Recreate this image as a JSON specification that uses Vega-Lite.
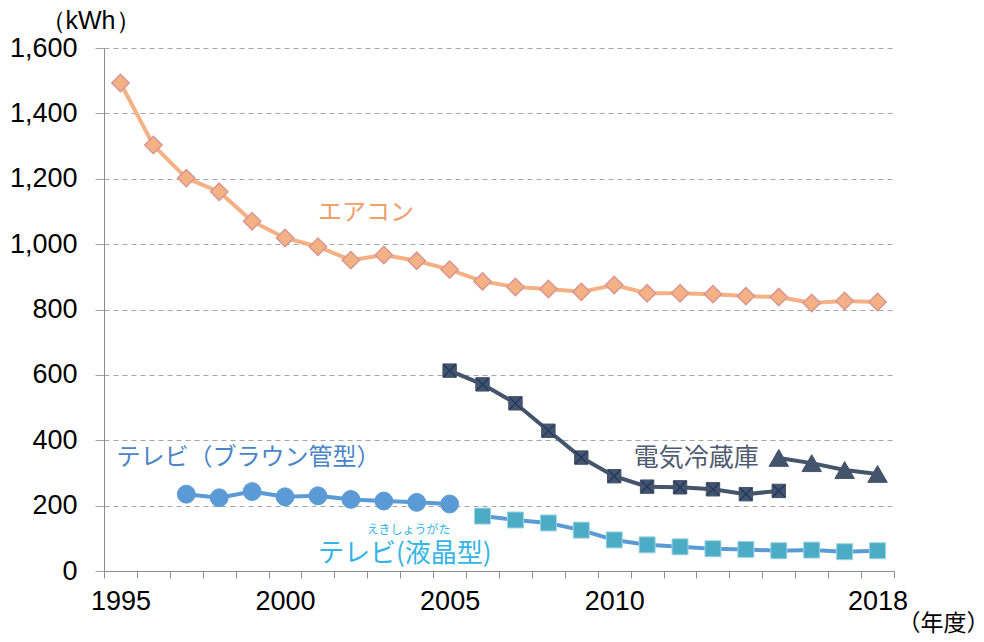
{
  "$schema": "https://vega.github.io/schema/vega-lite/v6.json",
  "width": 790,
  "height": 523,
  "autosize": {"type": "none"},
  "padding": {"left": 104, "top": 48, "right": 90, "bottom": 71},
  "background": "white",
  "config": {"view": {"stroke": null}},
  "datasets": {
    "series": [
      {"series": "aircon", "year": "1995", "value": 1493},
      {"series": "aircon", "year": "1996", "value": 1303},
      {"series": "aircon", "year": "1997", "value": 1202},
      {"series": "aircon", "year": "1998", "value": 1160},
      {"series": "aircon", "year": "1999", "value": 1070},
      {"series": "aircon", "year": "2000", "value": 1019},
      {"series": "aircon", "year": "2001", "value": 992},
      {"series": "aircon", "year": "2002", "value": 951},
      {"series": "aircon", "year": "2003", "value": 967},
      {"series": "aircon", "year": "2004", "value": 949},
      {"series": "aircon", "year": "2005", "value": 922},
      {"series": "aircon", "year": "2006", "value": 886},
      {"series": "aircon", "year": "2007", "value": 869},
      {"series": "aircon", "year": "2008", "value": 863},
      {"series": "aircon", "year": "2009", "value": 854},
      {"series": "aircon", "year": "2010", "value": 875},
      {"series": "aircon", "year": "2011", "value": 850},
      {"series": "aircon", "year": "2012", "value": 850},
      {"series": "aircon", "year": "2013", "value": 847},
      {"series": "aircon", "year": "2014", "value": 841},
      {"series": "aircon", "year": "2015", "value": 838},
      {"series": "aircon", "year": "2016", "value": 820},
      {"series": "aircon", "year": "2017", "value": 826},
      {"series": "aircon", "year": "2018", "value": 823},
      {"series": "fridge_old", "year": "2005", "value": 613},
      {"series": "fridge_old", "year": "2006", "value": 571},
      {"series": "fridge_old", "year": "2007", "value": 513},
      {"series": "fridge_old", "year": "2008", "value": 429},
      {"series": "fridge_old", "year": "2009", "value": 347},
      {"series": "fridge_old", "year": "2010", "value": 290},
      {"series": "fridge_old", "year": "2011", "value": 258},
      {"series": "fridge_old", "year": "2012", "value": 256},
      {"series": "fridge_old", "year": "2013", "value": 250},
      {"series": "fridge_old", "year": "2014", "value": 235},
      {"series": "fridge_old", "year": "2015", "value": 245},
      {"series": "fridge_new", "year": "2015", "value": 346},
      {"series": "fridge_new", "year": "2016", "value": 330},
      {"series": "fridge_new", "year": "2017", "value": 309},
      {"series": "fridge_new", "year": "2018", "value": 297},
      {"series": "tv_crt", "year": "1997", "value": 235},
      {"series": "tv_crt", "year": "1998", "value": 224},
      {"series": "tv_crt", "year": "1999", "value": 243},
      {"series": "tv_crt", "year": "2000", "value": 227},
      {"series": "tv_crt", "year": "2001", "value": 230},
      {"series": "tv_crt", "year": "2002", "value": 219},
      {"series": "tv_crt", "year": "2003", "value": 214},
      {"series": "tv_crt", "year": "2004", "value": 210},
      {"series": "tv_crt", "year": "2005", "value": 205},
      {"series": "tv_lcd", "year": "2006", "value": 168},
      {"series": "tv_lcd", "year": "2007", "value": 156},
      {"series": "tv_lcd", "year": "2008", "value": 147},
      {"series": "tv_lcd", "year": "2009", "value": 125},
      {"series": "tv_lcd", "year": "2010", "value": 95},
      {"series": "tv_lcd", "year": "2011", "value": 80},
      {"series": "tv_lcd", "year": "2012", "value": 74},
      {"series": "tv_lcd", "year": "2013", "value": 68},
      {"series": "tv_lcd", "year": "2014", "value": 66},
      {"series": "tv_lcd", "year": "2015", "value": 62},
      {"series": "tv_lcd", "year": "2016", "value": 64},
      {"series": "tv_lcd", "year": "2017", "value": 59},
      {"series": "tv_lcd", "year": "2018", "value": 62}
    ],
    "labels": [
      {"key": "aircon", "label": "エアコン", "year": "2001", "value": 1095},
      {"key": "tv_crt", "label": "テレビ（ブラウン管型）", "year": "1995", "value": 346},
      {"key": "fridge", "label": "電気冷蔵庫", "year": "2015", "value": 346},
      {"key": "furigana", "label": "えきしょうがた", "year": "2004", "value": 125},
      {"key": "tv_lcd", "label": "テレビ(液晶型)", "year": "2006", "value": 52}
    ]
  },
  "data": {"name": "series"},
  "encoding": {
    "x": {
      "field": "year",
      "type": "ordinal",
      "bandPosition": 0.5,
      "scale": {
        "type": "band",
        "domain": ["1995","1996","1997","1998","1999","2000","2001","2002","2003","2004","2005","2006","2007","2008","2009","2010","2011","2012","2013","2014","2015","2016","2017","2018"],
        "paddingInner": 0,
        "paddingOuter": 0
      },
      "axis": {
        "title": "（年度）",
        "labelExpr": "indexof(['1995','2000','2005','2010','2018'], datum.value) >= 0 ? datum.value : ''",
        "labelOverlap": false,
        "labelAngle": 0,
        "tickBand": "extent",
        "grid": false,
        "domainColor": "#8c8c8c",
        "tickColor": "#8c8c8c",
        "tickSize": 7,
        "labelFont": "Liberation Sans",
        "labelFontSize": 27,
        "labelColor": "#000000",
        "labelPadding": 10,
        "titleFont": "Noto Sans CJK JP",
        "titleFontSize": 23,
        "titleFontWeight": "normal",
        "titleColor": "#000000",
        "titleAlign": "center",
        "titleBaseline": "middle",
        "titleX": 839,
        "titleY": 52
      }
    },
    "y": {
      "field": "value",
      "type": "quantitative",
      "scale": {"domain": [0, 1600], "nice": false, "zero": true},
      "axis": {
        "values": [0, 200, 400, 600, 800, 1000, 1200, 1400, 1600],
        "format": ",.0f",
        "grid": true,
        "gridDash": [5, 4],
        "gridColor": "#a6a6a6",
        "gridWidth": 1,
        "domainColor": "#8c8c8c",
        "tickColor": "#a6a6a6",
        "tickSize": 9,
        "labelFont": "Liberation Sans",
        "labelFontSize": 27,
        "labelColor": "#000000",
        "labelPadding": 18,
        "title": "（kWh）",
        "titleFont": "Liberation Sans",
        "titleFontSize": 25,
        "titleFontWeight": "normal",
        "titleColor": "#000000",
        "titleAngle": 0,
        "titleAlign": "center",
        "titleBaseline": "middle",
        "titleX": -14,
        "titleY": -28
      }
    }
  },
  "layer": [
    {
      "mark": {"type": "line", "strokeWidth": 4},
      "encoding": {
        "color": {
          "field": "series",
          "type": "nominal",
          "legend": null,
          "scale": {
            "domain": ["aircon", "fridge_old", "fridge_new", "tv_crt", "tv_lcd"],
            "range": ["#f4b183", "#44546a", "#44546a", "#5b9bd5", "#5b9bd5"]
          }
        }
      }
    },
    {
      "transform": [{"filter": "datum.series == 'aircon'"}],
      "mark": {"type": "point", "shape": "diamond", "size": 300, "filled": true, "fill": "#f4b183", "stroke": "#d99694", "strokeWidth": 1.5, "opacity": 1}
    },
    {
      "transform": [{"filter": "datum.series == 'fridge_old'"}],
      "mark": {"type": "point", "shape": "square", "size": 180, "filled": true, "fill": "#44546a", "stroke": "#44546a", "strokeWidth": 1, "opacity": 1}
    },
    {
      "transform": [{"filter": "datum.series == 'fridge_old'"}],
      "mark": {"type": "point", "shape": "M-1,-1L1,1M-1,1L1,-1", "size": 150, "filled": false, "stroke": "#1f3864", "strokeWidth": 1.3, "opacity": 1}
    },
    {
      "transform": [{"filter": "datum.series == 'fridge_new'"}],
      "mark": {"type": "point", "shape": "triangle-up", "size": 380, "filled": true, "fill": "#44546a", "stroke": "#44546a", "strokeWidth": 1, "opacity": 1}
    },
    {
      "transform": [{"filter": "datum.series == 'tv_crt'"}],
      "mark": {"type": "point", "shape": "circle", "size": 320, "filled": true, "fill": "#5b9bd5", "stroke": "#5b9bd5", "strokeWidth": 1, "opacity": 1}
    },
    {
      "transform": [{"filter": "datum.series == 'tv_lcd'"}],
      "mark": {"type": "point", "shape": "square", "size": 256, "filled": true, "fill": "#4bacc6", "stroke": "#9fd3e3", "strokeWidth": 1, "opacity": 1}
    },
    {
      "data": {"name": "labels"},
      "transform": [{"filter": "datum.key == 'aircon'"}],
      "mark": {"type": "text", "align": "left", "baseline": "middle", "font": "Noto Sans CJK JP", "fontSize": 24, "color": "#f0a069"},
      "encoding": {"text": {"field": "label"}}
    },
    {
      "data": {"name": "labels"},
      "transform": [{"filter": "datum.key == 'tv_crt'"}],
      "mark": {"type": "text", "align": "left", "baseline": "middle", "dx": -4, "font": "Noto Sans CJK JP", "fontSize": 24, "color": "#4a86c5"},
      "encoding": {"text": {"field": "label"}}
    },
    {
      "data": {"name": "labels"},
      "transform": [{"filter": "datum.key == 'fridge'"}],
      "mark": {"type": "text", "align": "right", "baseline": "middle", "dx": -20, "font": "Noto Sans CJK JP", "fontSize": 25, "color": "#4f5b70"},
      "encoding": {"text": {"field": "label"}}
    },
    {
      "data": {"name": "labels"},
      "transform": [{"filter": "datum.key == 'furigana'"}],
      "mark": {"type": "text", "align": "center", "baseline": "middle", "dx": -8, "font": "Noto Sans CJK JP", "fontSize": 12, "color": "#33b5e5"},
      "encoding": {"text": {"field": "label"}}
    },
    {
      "data": {"name": "labels"},
      "transform": [{"filter": "datum.key == 'tv_lcd'"}],
      "mark": {"type": "text", "align": "right", "baseline": "middle", "dx": 9, "font": "Noto Sans CJK JP", "fontSize": 26, "color": "#33b5e5"},
      "encoding": {"text": {"field": "label"}}
    }
  ]
}
